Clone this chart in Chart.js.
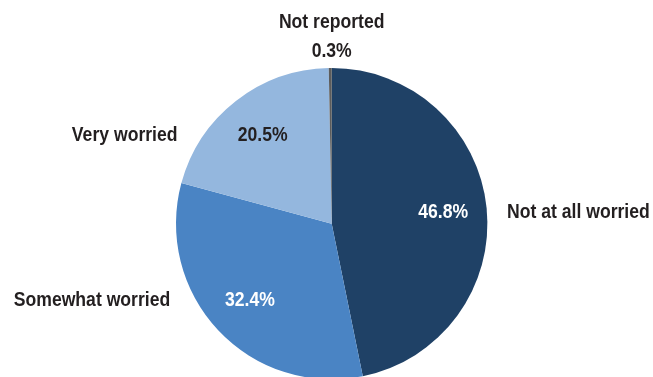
<!DOCTYPE html>
<html>
<head>
<meta charset="utf-8">
<script src="https://cdn.jsdelivr.net/npm/chart.js@4/dist/chart.umd.min.js"></script>
<style>
  html, body { margin: 0; padding: 0; background: #fff; overflow: hidden; width: 653px; height: 377px; }
  #wrap { position: absolute; left: 0; top: 0; width: 653px; height: 420px; }
</style>
</head>
<body>
<div id="wrap"><canvas id="c" width="653" height="420"></canvas></div>
<script>
const categories = ["Not at all worried", "Somewhat worried", "Very worried", "Not reported"];
const values = [46.8, 32.4, 20.5, 0.3];
const valueLabels = ["46.8%", "32.4%", "20.5%", "0.3%"];
const sliceColors = ["#1f4166", "#4a84c4", "#94b7de", "#5c5c5c"];
const valueTextColors = ["#ffffff", "#ffffff", "#231f20", "#231f20"];

const FONT = "bold 20px 'Liberation Sans Narrow', 'Arial Narrow', 'Liberation Sans', sans-serif";
const TEXT = "#231f20";
const SX = 0.88; // horizontal condensing of text

function drawText(ctx, str, x, y, align) {
  const w = ctx.measureText(str).width * SX;
  let left = x;
  if (align === "center") left = x - w / 2;
  else if (align === "right") left = x - w;
  ctx.save();
  ctx.textAlign = "left";
  ctx.translate(left, y);
  ctx.scale(SX, 1);
  ctx.fillText(str, 0, 0);
  ctx.restore();
}

const labelPlugin = {
  id: "sliceLabels",
  afterDatasetsDraw(chart) {
    const ctx = chart.ctx;
    const meta = chart.getDatasetMeta(0);
    ctx.save();
    ctx.font = FONT;
    ctx.textBaseline = "middle";
    const total = values.reduce((a, b) => a + b, 0);
    meta.data.forEach((arc, i) => {
      const p = arc.getProps(["x", "y", "startAngle", "endAngle", "outerRadius"], true);
      const mid = (p.startAngle + p.endAngle) / 2;
      const r = p.outerRadius;
      const frac = values[i] / total;
      if (frac < 0.02) {
        ctx.fillStyle = TEXT;
        const topY = p.y - r;
        drawText(ctx, categories[i], p.x, topY - 46, "center");
        drawText(ctx, valueLabels[i], p.x, topY - 17, "center");
        return;
      }
      const vx = p.x + Math.cos(mid) * r * 0.72;
      const vy = p.y + Math.sin(mid) * r * 0.72;
      ctx.fillStyle = valueTextColors[i];
      drawText(ctx, valueLabels[i], vx, vy, "center");
      const dy = vy - p.y;
      const dx = Math.sqrt(Math.max(0, r * r - dy * dy));
      ctx.fillStyle = TEXT;
      if (Math.cos(mid) >= 0) {
        drawText(ctx, categories[i], p.x + dx + 20, vy, "left");
      } else {
        drawText(ctx, categories[i], p.x - dx - 26, vy, "right");
      }
    });
    ctx.restore();
  }
};

new Chart(document.getElementById("c"), {
  type: "pie",
  data: {
    labels: categories,
    datasets: [{
      data: values,
      backgroundColor: sliceColors,
      borderWidth: 0
    }]
  },
  options: {
    responsive: false,
    animation: false,
    devicePixelRatio: 1,
    layout: { padding: { top: 68, bottom: 40.6, left: 10.4, right: 0 } },
    plugins: { legend: { display: false }, tooltip: { enabled: false } }
  },
  plugins: [labelPlugin]
});
</script>
</body>
</html>
